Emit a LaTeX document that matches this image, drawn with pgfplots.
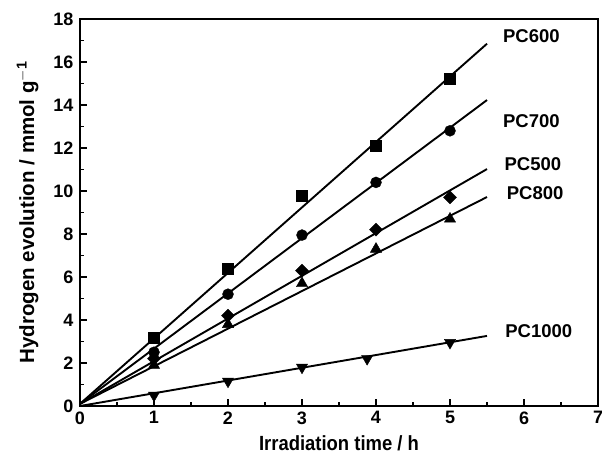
\documentclass[border=0pt]{standalone}
\usepackage{pgfplots}
\pgfplotsset{compat=1.18}
\usepackage{fontspec}
\setmainfont{Liberation Sans}
\usetikzlibrary{plotmarks}

\begin{document}
\begin{tikzpicture}
\begin{axis}[
    name=ax,
    scale only axis,
    width=518pt, height=387pt,
    xmin=0, xmax=7, ymin=0, ymax=18,
    xtick={0,...,7}, ytick={0,2,...,18},
    minor x tick num=1, minor y tick num=1,
    tick align=inside,
    xtick pos=bottom, ytick pos=left,
    major tick length=7pt, minor tick length=4pt,
    every tick/.style={black, line width=1.4pt},
    axis line style={line width=2pt},
    font=\fontsize{18}{20}\selectfont\bfseries,
    /pgf/number format/assume math mode=true,
    xticklabel style={yshift=-2pt},
    yticklabel style={xshift=-3pt},
    xlabel={\scalebox{0.9}[1]{Irradiation time / h}},
    ylabel={Hydrogen evolution / mmol g$^{\mathbf{-1}}$},
    label style={font=\fontsize{20.5}{24}\selectfont\bfseries},
    xlabel style={yshift=-4pt},
    ylabel style={yshift=8pt},
    clip=false,
]
% fitted lines
\addplot[black, line width=1.9pt] coordinates {(0,0.1) (5.5,16.85)};
\addplot[black, line width=1.9pt] coordinates {(0,0.1) (5.5,14.23)};
\addplot[black, line width=1.9pt] coordinates {(0,0.1) (5.5,11.02)};
\addplot[black, line width=1.9pt] coordinates {(0,0.1) (5.5,9.72)};
\addplot[black, line width=1.9pt] coordinates {(0,0.0) (5.5,3.26)};
% data points
\addplot[only marks, mark=square*, mark size=5.5pt] coordinates {(1,3.2) (2,6.4) (3,9.8) (4,12.1) (5,15.2)};
\addplot[only marks, mark=*, mark size=5.5pt] coordinates {(1,2.5) (2,5.2) (3,7.95) (4,10.4) (5,12.8)};
\addplot[only marks, mark=square*, mark options={rotate=45}, mark size=4.6pt] coordinates {(1,2.2) (2,4.2) (3,6.3) (4,8.2) (5,9.7)};
\addplot[only marks, mark=triangle*, mark size=6.5pt] coordinates {(1,1.9) (2,3.8) (3,5.7) (4,7.3) (5,8.7)};
\addplot[only marks, mark=triangle*, mark options={rotate=180}, mark size=6.5pt] coordinates {(1,0.5) (2,1.15) (3,1.8) (3.88,2.2) (5,2.95)};
% labels
\node[font=\fontsize{18.5}{20}\selectfont\bfseries] at (axis cs:6.1,17.2) {PC600};
\node[font=\fontsize{18.5}{20}\selectfont\bfseries] at (axis cs:6.1,13.26) {PC700};
\node[font=\fontsize{18.5}{20}\selectfont\bfseries] at (axis cs:6.12,11.26) {PC500};
\node[font=\fontsize{18.5}{20}\selectfont\bfseries] at (axis cs:6.15,9.9) {PC800};
\node[font=\fontsize{18.5}{20}\selectfont\bfseries] at (axis cs:6.2,3.5) {PC1000};
\end{axis}
\pgfresetboundingbox
\path ([shift={(-80pt,-57pt)}]ax.south west) rectangle ([shift={(4pt,19pt)}]ax.north east);
\end{tikzpicture}
\end{document}
